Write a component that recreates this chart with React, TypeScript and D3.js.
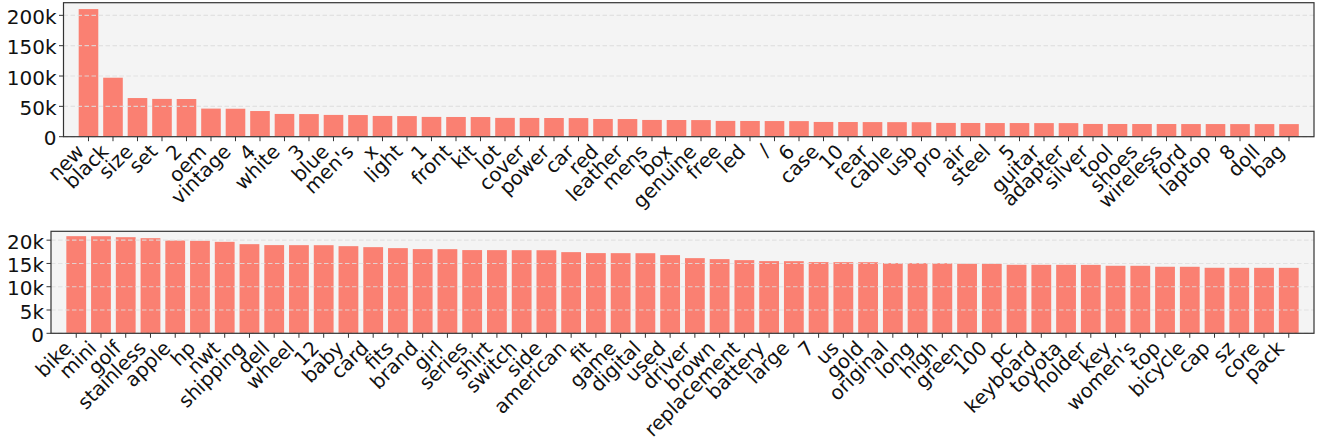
import React from "react";
import * as d3 from "d3";

const topWords = ["new","black","size","set","2","oem","vintage","4","white","3","blue","men's","x","light","1","front","kit","lot","cover","power","car","red","leather","mens","box","genuine","free","led","/","6","case","10","rear","cable","usb","pro","air","steel","5","guitar","adapter","silver","tool","shoes","wireless","ford","laptop","8","doll","bag"];
const topCounts = [210300,97200,63700,62300,62100,46300,46100,42300,37500,37300,35900,35700,34200,34000,32600,32500,32400,31000,30900,30800,30700,29200,29100,27600,27500,27400,26000,25900,25800,25700,24300,24200,24100,24000,23900,22700,22600,22500,22500,22400,22400,21000,20950,20900,20900,20850,20850,20800,20800,20750];

const bottomWords = ["bike","mini","golf","stainless","apple","hp","nwt","shipping","dell","wheel","12","baby","card","fits","brand","girl","series","shirt","switch","side","american","fit","game","digital","used","driver","brown","replacement","battery","large","7","us","gold","original","long","high","green","100","pc","keyboard","toyota","holder","key","women's","top","bicycle","cap","sz","core","pack"];
const bottomCounts = [20860,20850,20640,20430,19930,19860,19640,19140,18940,18930,18920,18710,18500,18290,18080,18070,17870,17860,17850,17840,17430,17220,17210,17200,16790,16140,15930,15710,15500,15490,15290,15280,15270,15070,15060,15050,14930,14920,14710,14705,14700,14695,14500,14495,14290,14285,14070,14065,14060,14055];

const topTicks = [0, 50000, 100000, 150000, 200000];
const bottomTicks = [0, 5000, 10000, 15000, 20000];

const FONT = "DejaVu Sans, sans-serif";
const FS = 20;
const XFS = 19.8;

function fmt(v: number) {
  return v === 0 ? "0" : `${v / 1000}k`;
}

type PanelProps = {
  words: string[];
  counts: number[];
  ticks: number[];
  x0: number;
  x1: number;
  y0: number;
  y1: number;
};

function Panel({ words, counts, ticks, x0, x1, y0, y1 }: PanelProps) {
  const x = d3.scaleBand<string>().domain(words).range([x0, x1]).paddingInner(0.2).paddingOuter(0.62);
  const maxV = d3.max(counts) as number;
  const y = d3.scaleLinear().domain([0, maxV * 1.05]).range([y1, y0]);
  const tickLen = 4.5;
  const gap = 7;
  const xgap = 5.5;
  return (
    <g>
      <rect x={x0} y={y0} width={x1 - x0} height={y1 - y0} fill="#f4f4f4" />
      {words.map((w, i) => (
        <rect
          key={w + i}
          x={x(w)}
          y={y(counts[i])}
          width={x.bandwidth()}
          height={y(0) - y(counts[i])}
          fill="#fa8072"
        />
      ))}
      {ticks.map((t) => (
        <line
          key={"g" + t}
          x1={x0}
          x2={x1}
          y1={y(t)}
          y2={y(t)}
          stroke="#dedede"
          strokeOpacity={0.85}
          strokeWidth={1.1}
          strokeDasharray="4.5,2.5"
        />
      ))}
      <rect x={x0} y={y0} width={x1 - x0} height={y1 - y0} fill="none" stroke="#333" strokeWidth={1.2} />
      {ticks.map((t) => (
        <g key={"t" + t}>
          <line x1={x0 - tickLen} x2={x0} y1={y(t)} y2={y(t)} stroke="#333" strokeWidth={1} />
          <text
            x={x0 - gap}
            y={y(t)}
            dy="0.43em"
            textAnchor="end"
            fontFamily={FONT}
            fontSize={FS}
            fill="#111"
          >
            {fmt(t)}
          </text>
        </g>
      ))}
      {words.map((w) => {
        const cx = (x(w) as number) + x.bandwidth() / 2;
        const ax = cx - 0.167 * XFS;
        const ay = y1 + xgap + 0.537 * XFS;
        return (
          <g key={"x" + w}>
            <line x1={cx} x2={cx} y1={y1} y2={y1 + tickLen} stroke="#333" strokeWidth={1} />
            <text
              transform={`translate(${ax},${ay}) rotate(-45)`}
              textAnchor="end"
              fontFamily={FONT}
              fontSize={XFS}
              fill="#111"
            >
              {w}
            </text>
          </g>
        );
      })}
    </g>
  );
}

export default function App() {
  return (
    <svg
      width={1318}
      height={442}
      style={{ position: "absolute", left: 0, top: 0, background: "#fff" }}
    >
      <Panel words={topWords} counts={topCounts} ticks={topTicks} x0={63.5} x1={1314} y0={2.7} y1={136.7} />
      <Panel words={bottomWords} counts={bottomCounts} ticks={bottomTicks} x0={51} x1={1314} y0={231.3} y1={333.3} />
    </svg>
  );
}
